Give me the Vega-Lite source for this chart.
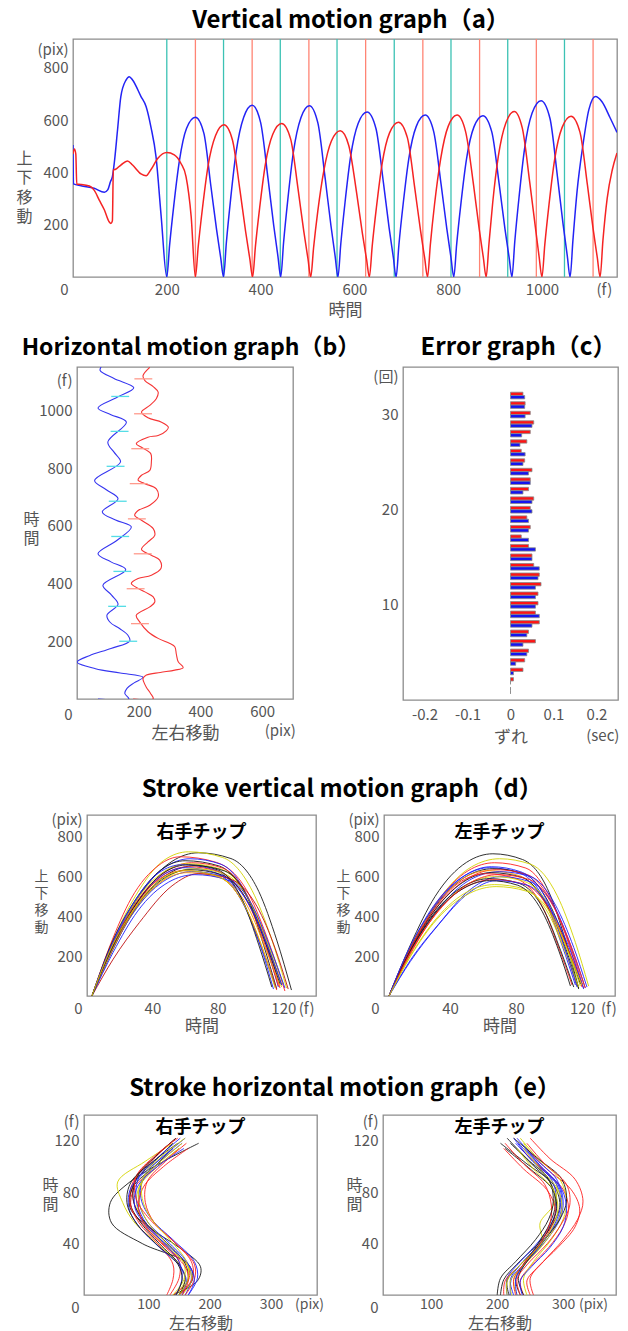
{
"$schema": "https://vega.github.io/schema/vega-lite/v6.json",
"background": "white",
"padding": {"left": 15, "top": 8, "right": 2, "bottom": 0},
"datasets": {
"vert": [
{"s":"b","t":0,"v":505},{"s":"b","t":1,"v":356},{"s":"b","t":17,"v":349},{"s":"b","t":45,"v":339},{"s":"b","t":67,"v":324},{"s":"b","t":74,"v":333},{"s":"b","t":80,"v":365},{"s":"b","t":84,"v":384},{"s":"b","t":88,"v":436},{"s":"b","t":95,"v":563},{"s":"b","t":102,"v":690},{"s":"b","t":113,"v":753},{"s":"b","t":120,"v":766},{"s":"b","t":127,"v":753},{"s":"b","t":145,"v":690},{"s":"b","t":156,"v":651},{"s":"b","t":166,"v":575},{"s":"b","t":177,"v":460},{"s":"b","t":188,"v":232},{"s":"b","t":200,"v":0},
{"s":"b","t":206,"v":122},{"s":"b","t":215,"v":275},{"s":"b","t":227,"v":446},{"s":"b","t":242,"v":568},{"s":"b","t":261,"v":611},{"s":"b","t":279,"v":550},{"s":"b","t":294,"v":348},{"s":"b","t":306,"v":183},{"s":"b","t":315,"v":73},{"s":"b","t":321,"v":0},
{"s":"b","t":327,"v":131},{"s":"b","t":336,"v":296},{"s":"b","t":348,"v":480},{"s":"b","t":364,"v":611},{"s":"b","t":382,"v":657},{"s":"b","t":400,"v":591},{"s":"b","t":416,"v":374},{"s":"b","t":428,"v":197},{"s":"b","t":437,"v":79},{"s":"b","t":443,"v":0},
{"s":"b","t":449,"v":131},{"s":"b","t":458,"v":295},{"s":"b","t":470,"v":478},{"s":"b","t":486,"v":609},{"s":"b","t":504,"v":655},{"s":"b","t":522,"v":590},{"s":"b","t":538,"v":373},{"s":"b","t":550,"v":197},{"s":"b","t":559,"v":79},{"s":"b","t":565,"v":0},
{"s":"b","t":571,"v":126},{"s":"b","t":580,"v":284},{"s":"b","t":592,"v":461},{"s":"b","t":608,"v":587},{"s":"b","t":627,"v":631},{"s":"b","t":646,"v":568},{"s":"b","t":662,"v":360},{"s":"b","t":674,"v":189},{"s":"b","t":683,"v":76},{"s":"b","t":689,"v":0},
{"s":"b","t":695,"v":124},{"s":"b","t":704,"v":279},{"s":"b","t":716,"v":452},{"s":"b","t":732,"v":576},{"s":"b","t":751,"v":619},{"s":"b","t":769,"v":557},{"s":"b","t":785,"v":353},{"s":"b","t":797,"v":186},{"s":"b","t":806,"v":74},{"s":"b","t":812,"v":0},
{"s":"b","t":818,"v":123},{"s":"b","t":827,"v":278},{"s":"b","t":839,"v":450},{"s":"b","t":855,"v":574},{"s":"b","t":874,"v":617},{"s":"b","t":893,"v":555},{"s":"b","t":909,"v":352},{"s":"b","t":921,"v":185},{"s":"b","t":930,"v":74},{"s":"b","t":936,"v":0},
{"s":"b","t":942,"v":135},{"s":"b","t":951,"v":303},{"s":"b","t":963,"v":492},{"s":"b","t":979,"v":627},{"s":"b","t":998,"v":674},{"s":"b","t":1017,"v":607},{"s":"b","t":1033,"v":384},{"s":"b","t":1045,"v":202},{"s":"b","t":1054,"v":81},{"s":"b","t":1060,"v":0},
{"s":"b","t":1066,"v":140},{"s":"b","t":1075,"v":330},{"s":"b","t":1087,"v":500},{"s":"b","t":1100,"v":640},{"s":"b","t":1114,"v":690},{"s":"b","t":1128,"v":670},{"s":"b","t":1145,"v":610},{"s":"b","t":1160,"v":553},
{"s":"r","t":0,"v":470},{"s":"r","t":3,"v":489},{"s":"r","t":6,"v":470},{"s":"r","t":8,"v":355},{"s":"r","t":17,"v":354},{"s":"r","t":35,"v":348},{"s":"r","t":45,"v":332},{"s":"r","t":56,"v":294},{"s":"r","t":67,"v":256},{"s":"r","t":77,"v":211},{"s":"r","t":81,"v":205},{"s":"r","t":84,"v":215},{"s":"r","t":86,"v":409},{"s":"r","t":91,"v":412},{"s":"r","t":102,"v":428},{"s":"r","t":116,"v":444},{"s":"r","t":127,"v":428},{"s":"r","t":145,"v":394},{"s":"r","t":156,"v":387},{"s":"r","t":166,"v":410},{"s":"r","t":181,"v":454},{"s":"r","t":200,"v":476},{"s":"r","t":216,"v":467},{"s":"r","t":230,"v":435},{"s":"r","t":241,"v":384},{"s":"r","t":252,"v":231},{"s":"r","t":261,"v":0},
{"s":"r","t":267,"v":116},{"s":"r","t":276,"v":262},{"s":"r","t":288,"v":425},{"s":"r","t":304,"v":541},{"s":"r","t":322,"v":582},{"s":"r","t":340,"v":524},{"s":"r","t":356,"v":332},{"s":"r","t":368,"v":175},{"s":"r","t":377,"v":70},{"s":"r","t":383,"v":0},
{"s":"r","t":389,"v":117},{"s":"r","t":398,"v":264},{"s":"r","t":410,"v":429},{"s":"r","t":426,"v":546},{"s":"r","t":445,"v":587},{"s":"r","t":464,"v":528},{"s":"r","t":480,"v":335},{"s":"r","t":492,"v":176},{"s":"r","t":501,"v":70},{"s":"r","t":507,"v":0},
{"s":"r","t":513,"v":112},{"s":"r","t":522,"v":252},{"s":"r","t":535,"v":408},{"s":"r","t":551,"v":520},{"s":"r","t":570,"v":559},{"s":"r","t":588,"v":503},{"s":"r","t":605,"v":319},{"s":"r","t":617,"v":168},{"s":"r","t":626,"v":67},{"s":"r","t":632,"v":0},
{"s":"r","t":638,"v":118},{"s":"r","t":647,"v":266},{"s":"r","t":659,"v":432},{"s":"r","t":675,"v":551},{"s":"r","t":694,"v":592},{"s":"r","t":713,"v":533},{"s":"r","t":729,"v":337},{"s":"r","t":741,"v":178},{"s":"r","t":750,"v":71},{"s":"r","t":756,"v":0},
{"s":"r","t":762,"v":124},{"s":"r","t":771,"v":279},{"s":"r","t":784,"v":452},{"s":"r","t":800,"v":576},{"s":"r","t":819,"v":619},{"s":"r","t":837,"v":557},{"s":"r","t":854,"v":353},{"s":"r","t":866,"v":186},{"s":"r","t":875,"v":74},{"s":"r","t":881,"v":0},
{"s":"r","t":887,"v":127},{"s":"r","t":895,"v":285},{"s":"r","t":907,"v":462},{"s":"r","t":923,"v":589},{"s":"r","t":941,"v":633},{"s":"r","t":958,"v":570},{"s":"r","t":974,"v":361},{"s":"r","t":986,"v":190},{"s":"r","t":994,"v":76},{"s":"r","t":1000,"v":0},
{"s":"r","t":1006,"v":123},{"s":"r","t":1015,"v":277},{"s":"r","t":1027,"v":449},{"s":"r","t":1043,"v":572},{"s":"r","t":1062,"v":615},{"s":"r","t":1081,"v":554},{"s":"r","t":1097,"v":351},{"s":"r","t":1109,"v":185},{"s":"r","t":1118,"v":74},{"s":"r","t":1124,"v":0},
{"s":"r","t":1130,"v":140},{"s":"r","t":1139,"v":300},{"s":"r","t":1150,"v":410},{"s":"r","t":1160,"v":474}
],
"vrules": [
{"s":"b","t":200},{"s":"b","t":321},{"s":"b","t":442},{"s":"b","t":563},{"s":"b","t":685},{"s":"b","t":806},{"s":"b","t":927},{"s":"b","t":1048},
{"s":"r","t":261},{"s":"r","t":382},{"s":"r","t":503},{"s":"r","t":624},{"s":"r","t":746},{"s":"r","t":867},{"s":"r","t":988},{"s":"r","t":1109}
],
"horiz": [
{"s":"b","t":0,"x":68},{"s":"b","t":1,"x":168},{"s":"b","t":19,"x":155},{"s":"b","t":37,"x":162},{"s":"b","t":56,"x":185},{"s":"b","t":75,"x":214},{"s":"b","t":90,"x":140},{"s":"b","t":105,"x":60},{"s":"b","t":128,"x":0},{"s":"b","t":150,"x":40},{"s":"b","t":175,"x":110},{"s":"b","t":201,"x":171},{"s":"b","t":221,"x":165},{"s":"b","t":244,"x":138},{"s":"b","t":265,"x":108},{"s":"b","t":290,"x":97},{"s":"b","t":328,"x":133},{"s":"b","t":360,"x":112},{"s":"b","t":394,"x":84},{"s":"b","t":448,"x":158},{"s":"b","t":475,"x":110},{"s":"b","t":503,"x":68},{"s":"b","t":550,"x":130},{"s":"b","t":596,"x":176},{"s":"b","t":620,"x":125},{"s":"b","t":648,"x":82},{"s":"b","t":694,"x":133},{"s":"b","t":725,"x":95},{"s":"b","t":757,"x":57},{"s":"b","t":821,"x":141},{"s":"b","t":855,"x":120},{"s":"b","t":890,"x":100},{"s":"b","t":959,"x":160},{"s":"b","t":985,"x":110},{"s":"b","t":1008,"x":68},{"s":"b","t":1045,"x":130},{"s":"b","t":1078,"x":184},{"s":"b","t":1110,"x":120},{"s":"b","t":1138,"x":75},{"s":"b","t":1150,"x":78},
{"s":"r","t":0,"x":182},{"s":"r","t":1,"x":247},{"s":"r","t":20,"x":238},{"s":"r","t":40,"x":225},{"s":"r","t":60,"x":216},{"s":"r","t":71,"x":214},{"s":"r","t":83,"x":225},{"s":"r","t":92,"x":270},{"s":"r","t":100,"x":317},{"s":"r","t":109,"x":344},{"s":"r","t":129,"x":328},{"s":"r","t":155,"x":322},{"s":"r","t":181,"x":317},{"s":"r","t":192,"x":301},{"s":"r","t":210,"x":263},{"s":"r","t":233,"x":230},{"s":"r","t":267,"x":203},{"s":"r","t":290,"x":192},{"s":"r","t":319,"x":236},{"s":"r","t":336,"x":252},{"s":"r","t":354,"x":247},{"s":"r","t":371,"x":220},{"s":"r","t":400,"x":176},{"s":"r","t":417,"x":198},{"s":"r","t":429,"x":241},{"s":"r","t":452,"x":272},{"s":"r","t":481,"x":268},{"s":"r","t":498,"x":241},{"s":"r","t":518,"x":209},{"s":"r","t":544,"x":230},{"s":"r","t":567,"x":252},{"s":"r","t":590,"x":247},{"s":"r","t":619,"x":209},{"s":"r","t":636,"x":187},{"s":"r","t":653,"x":198},{"s":"r","t":671,"x":236},{"s":"r","t":700,"x":263},{"s":"r","t":728,"x":257},{"s":"r","t":746,"x":220},{"s":"r","t":758,"x":198},{"s":"r","t":775,"x":209},{"s":"r","t":792,"x":236},{"s":"r","t":821,"x":241},{"s":"r","t":850,"x":239},{"s":"r","t":872,"x":209},{"s":"r","t":884,"x":192},{"s":"r","t":907,"x":230},{"s":"r","t":913,"x":263},{"s":"r","t":930,"x":290},{"s":"r","t":942,"x":296},{"s":"r","t":959,"x":274},{"s":"r","t":974,"x":230},{"s":"r","t":994,"x":209},{"s":"r","t":1017,"x":236},{"s":"r","t":1040,"x":257},{"s":"r","t":1063,"x":263},{"s":"r","t":1082,"x":247},{"s":"r","t":1103,"x":220},{"s":"r","t":1120,"x":214},{"s":"r","t":1149,"x":236}
],
"hdash": [
{"s":"b","t":200,"x1":137,"x2":195},{"s":"b","t":321,"x1":101,"x2":159},{"s":"b","t":442,"x1":118,"x2":176},{"s":"b","t":563,"x1":111,"x2":169},{"s":"b","t":685,"x1":103,"x2":161},{"s":"b","t":806,"x1":96,"x2":154},{"s":"b","t":927,"x1":109,"x2":167},{"s":"b","t":1048,"x1":111,"x2":169},
{"s":"r","t":261,"x1":175,"x2":233},{"s":"r","t":382,"x1":161,"x2":219},{"s":"r","t":503,"x1":184,"x2":242},{"s":"r","t":624,"x1":165,"x2":223},{"s":"r","t":746,"x1":171,"x2":229},{"s":"r","t":867,"x1":176,"x2":234},{"s":"r","t":988,"x1":185,"x2":243},{"s":"r","t":1109,"x1":186,"x2":244}
],
"err": [
{"n":1,"s":"r","e":0},{"n":1,"s":"b","e":0},{"n":2,"s":"r","e":0.007},{"n":2,"s":"b","e":0},{"n":3,"s":"r","e":0.029},{"n":3,"s":"b","e":0.007},{"n":4,"s":"r","e":0.033},{"n":4,"s":"b","e":0.012},{"n":5,"s":"r","e":0.042},{"n":5,"s":"b","e":0.038},{"n":6,"s":"r","e":0.058},{"n":6,"s":"b","e":0.029},{"n":7,"s":"r","e":0.042},{"n":7,"s":"b","e":0.038},{"n":8,"s":"r","e":0.067},{"n":8,"s":"b","e":0.05},{"n":9,"s":"r","e":0.058},{"n":9,"s":"b","e":0.067},{"n":10,"s":"r","e":0.064},{"n":10,"s":"b","e":0.058},{"n":11,"s":"r","e":0.064},{"n":11,"s":"b","e":0.058},{"n":12,"s":"r","e":0.071},{"n":12,"s":"b","e":0.058},{"n":13,"s":"r","e":0.067},{"n":13,"s":"b","e":0.064},{"n":14,"s":"r","e":0.054},{"n":14,"s":"b","e":0.067},{"n":15,"s":"r","e":0.05},{"n":15,"s":"b","e":0.05},{"n":16,"s":"r","e":0.042},{"n":16,"s":"b","e":0.058},{"n":17,"s":"r","e":0.025},{"n":17,"s":"b","e":0.042},{"n":18,"s":"r","e":0.046},{"n":18,"s":"b","e":0.042},{"n":19,"s":"r","e":0.038},{"n":19,"s":"b","e":0.042},{"n":20,"s":"r","e":0.046},{"n":20,"s":"b","e":0.05},{"n":21,"s":"r","e":0.054},{"n":21,"s":"b","e":0.05},{"n":22,"s":"r","e":0.042},{"n":22,"s":"b","e":0.029},{"n":23,"s":"r","e":0.046},{"n":23,"s":"b","e":0.046},{"n":24,"s":"r","e":0.05},{"n":24,"s":"b","e":0.042},{"n":25,"s":"r","e":0.033},{"n":25,"s":"b","e":0.029},{"n":26,"s":"r","e":0.025},{"n":26,"s":"b","e":0.034},{"n":27,"s":"r","e":0.038},{"n":27,"s":"b","e":0.022},{"n":28,"s":"r","e":0.046},{"n":28,"s":"b","e":0.026},{"n":29,"s":"r","e":0.054},{"n":29,"s":"b","e":0.05},{"n":30,"s":"r","e":0.046},{"n":30,"s":"b","e":0.034},{"n":31,"s":"r","e":0.034},{"n":31,"s":"b","e":0.033},{"n":32,"s":"r","e":0.029},{"n":32,"s":"b","e":0.033}
],
"svr": [
{"c":1,"t":3,"v":0},{"c":1,"t":16,"v":259},{"c":1,"t":32,"v":504},{"c":1,"t":52,"v":677},{"c":1,"t":68,"v":720},{"c":1,"t":88,"v":691},{"c":1,"t":105,"v":526},{"c":1,"t":116,"v":281},{"c":1,"t":125,"v":30},
{"c":2,"t":3,"v":0},{"c":2,"t":15,"v":261},{"c":2,"t":30,"v":508},{"c":2,"t":47,"v":682},{"c":2,"t":62,"v":725},{"c":2,"t":83,"v":696},{"c":2,"t":101,"v":529},{"c":2,"t":113,"v":283},{"c":2,"t":122,"v":40},
{"c":3,"t":3,"v":0},{"c":3,"t":14,"v":252},{"c":3,"t":27,"v":490},{"c":3,"t":44,"v":658},{"c":3,"t":57,"v":700},{"c":3,"t":79,"v":672},{"c":3,"t":99,"v":511},{"c":3,"t":111,"v":273},{"c":3,"t":121,"v":25},
{"c":4,"t":3,"v":0},{"c":4,"t":15,"v":248},{"c":4,"t":30,"v":483},{"c":4,"t":48,"v":649},{"c":4,"t":63,"v":690},{"c":4,"t":82,"v":662},{"c":4,"t":98,"v":504},{"c":4,"t":109,"v":269},{"c":4,"t":117,"v":45},
{"c":5,"t":3,"v":0},{"c":5,"t":14,"v":245},{"c":5,"t":29,"v":476},{"c":5,"t":46,"v":639},{"c":5,"t":60,"v":680},{"c":5,"t":81,"v":653},{"c":5,"t":98,"v":496},{"c":5,"t":110,"v":265},{"c":5,"t":119,"v":55},
{"c":6,"t":3,"v":0},{"c":6,"t":15,"v":241},{"c":6,"t":30,"v":469},{"c":6,"t":49,"v":630},{"c":6,"t":64,"v":670},{"c":6,"t":83,"v":643},{"c":6,"t":99,"v":489},{"c":6,"t":110,"v":261},{"c":6,"t":118,"v":40},
{"c":7,"t":3,"v":0},{"c":7,"t":15,"v":239},{"c":7,"t":29,"v":466},{"c":7,"t":47,"v":625},{"c":7,"t":61,"v":665},{"c":7,"t":82,"v":638},{"c":7,"t":99,"v":485},{"c":7,"t":111,"v":259},{"c":7,"t":120,"v":60},
{"c":8,"t":3,"v":0},{"c":8,"t":14,"v":238},{"c":8,"t":28,"v":462},{"c":8,"t":44,"v":620},{"c":8,"t":58,"v":660},{"c":8,"t":78,"v":634},{"c":8,"t":95,"v":482},{"c":8,"t":106,"v":257},{"c":8,"t":115,"v":50},
{"c":9,"t":3,"v":0},{"c":9,"t":16,"v":236},{"c":9,"t":31,"v":459},{"c":9,"t":50,"v":616},{"c":9,"t":66,"v":655},{"c":9,"t":84,"v":629},{"c":9,"t":99,"v":478},{"c":9,"t":108,"v":255},{"c":9,"t":116,"v":35},
{"c":10,"t":3,"v":0},{"c":10,"t":15,"v":234},{"c":10,"t":30,"v":455},{"c":10,"t":47,"v":611},{"c":10,"t":62,"v":650},{"c":10,"t":81,"v":624},{"c":10,"t":98,"v":475},{"c":10,"t":109,"v":254},{"c":10,"t":117,"v":50},
{"c":11,"t":3,"v":0},{"c":11,"t":14,"v":232},{"c":11,"t":29,"v":452},{"c":11,"t":46,"v":606},{"c":11,"t":60,"v":645},{"c":11,"t":79,"v":619},{"c":11,"t":95,"v":471},{"c":11,"t":106,"v":252},{"c":11,"t":114,"v":35},
{"c":12,"t":3,"v":0},{"c":12,"t":15,"v":230},{"c":12,"t":31,"v":448},{"c":12,"t":50,"v":602},{"c":12,"t":65,"v":640},{"c":12,"t":84,"v":614},{"c":12,"t":100,"v":467},{"c":12,"t":111,"v":250},{"c":12,"t":119,"v":45},
{"c":13,"t":3,"v":0},{"c":13,"t":15,"v":229},{"c":13,"t":30,"v":445},{"c":13,"t":48,"v":597},{"c":13,"t":63,"v":635},{"c":13,"t":82,"v":610},{"c":13,"t":99,"v":464},{"c":13,"t":110,"v":248},{"c":13,"t":118,"v":60},
{"c":14,"t":3,"v":0},{"c":14,"t":14,"v":227},{"c":14,"t":28,"v":441},{"c":14,"t":45,"v":592},{"c":14,"t":59,"v":630},{"c":14,"t":79,"v":605},{"c":14,"t":96,"v":460},{"c":14,"t":107,"v":246},{"c":14,"t":116,"v":30},
{"c":15,"t":3,"v":0},{"c":15,"t":15,"v":225},{"c":15,"t":30,"v":438},{"c":15,"t":49,"v":588},{"c":15,"t":64,"v":625},{"c":15,"t":84,"v":600},{"c":15,"t":101,"v":456},{"c":15,"t":112,"v":244},{"c":15,"t":121,"v":40},
{"c":16,"t":3,"v":0},{"c":16,"t":15,"v":223},{"c":16,"t":29,"v":434},{"c":16,"t":47,"v":583},{"c":16,"t":61,"v":620},{"c":16,"t":81,"v":595},{"c":16,"t":98,"v":453},{"c":16,"t":109,"v":242},{"c":16,"t":118,"v":50},
{"c":17,"t":3,"v":0},{"c":17,"t":16,"v":185},{"c":17,"t":32,"v":369},{"c":17,"t":52,"v":554},{"c":17,"t":68,"v":615},{"c":17,"t":87,"v":590},{"c":17,"t":104,"v":449},{"c":17,"t":115,"v":240},{"c":17,"t":123,"v":35},
{"c":18,"t":3,"v":0},{"c":18,"t":16,"v":220},{"c":18,"t":31,"v":427},{"c":18,"t":50,"v":573},{"c":18,"t":66,"v":610},{"c":18,"t":85,"v":586},{"c":18,"t":100,"v":445},{"c":18,"t":111,"v":238},{"c":18,"t":119,"v":55},
{"c":19,"t":3,"v":0},{"c":19,"t":15,"v":238},{"c":19,"t":30,"v":462},{"c":19,"t":47,"v":620},{"c":19,"t":62,"v":660},{"c":19,"t":80,"v":634},{"c":19,"t":95,"v":482},{"c":19,"t":105,"v":257},{"c":19,"t":113,"v":45},
{"c":20,"t":3,"v":0},{"c":20,"t":14,"v":227},{"c":20,"t":29,"v":441},{"c":20,"t":46,"v":592},{"c":20,"t":60,"v":630},{"c":20,"t":79,"v":605},{"c":20,"t":96,"v":460},{"c":20,"t":107,"v":246},{"c":20,"t":115,"v":40}
],
"svl": [
{"c":1,"t":3,"v":0},{"c":1,"t":16,"v":257},{"c":1,"t":31,"v":501},{"c":1,"t":50,"v":672},{"c":1,"t":66,"v":715},{"c":1,"t":84,"v":686},{"c":1,"t":100,"v":522},{"c":1,"t":110,"v":279},{"c":1,"t":118,"v":40},
{"c":2,"t":3,"v":0},{"c":2,"t":16,"v":248},{"c":2,"t":33,"v":483},{"c":2,"t":53,"v":649},{"c":2,"t":70,"v":690},{"c":2,"t":89,"v":662},{"c":2,"t":105,"v":504},{"c":2,"t":116,"v":269},{"c":2,"t":124,"v":50},
{"c":3,"t":3,"v":0},{"c":3,"t":16,"v":241},{"c":3,"t":32,"v":469},{"c":3,"t":51,"v":630},{"c":3,"t":67,"v":670},{"c":3,"t":86,"v":643},{"c":3,"t":101,"v":489},{"c":3,"t":112,"v":261},{"c":3,"t":120,"v":45},
{"c":4,"t":3,"v":0},{"c":4,"t":15,"v":232},{"c":4,"t":30,"v":452},{"c":4,"t":49,"v":606},{"c":4,"t":64,"v":645},{"c":4,"t":82,"v":619},{"c":4,"t":98,"v":471},{"c":4,"t":108,"v":252},{"c":4,"t":116,"v":55},
{"c":5,"t":3,"v":0},{"c":5,"t":16,"v":230},{"c":5,"t":31,"v":448},{"c":5,"t":50,"v":602},{"c":5,"t":66,"v":640},{"c":5,"t":85,"v":614},{"c":5,"t":100,"v":467},{"c":5,"t":111,"v":250},{"c":5,"t":119,"v":60},
{"c":6,"t":3,"v":0},{"c":6,"t":16,"v":229},{"c":6,"t":32,"v":445},{"c":6,"t":52,"v":597},{"c":6,"t":68,"v":635},{"c":6,"t":87,"v":610},{"c":6,"t":102,"v":464},{"c":6,"t":113,"v":248},{"c":6,"t":121,"v":40},
{"c":7,"t":3,"v":0},{"c":7,"t":15,"v":227},{"c":7,"t":30,"v":441},{"c":7,"t":48,"v":592},{"c":7,"t":63,"v":630},{"c":7,"t":82,"v":605},{"c":7,"t":98,"v":460},{"c":7,"t":109,"v":246},{"c":7,"t":117,"v":50},
{"c":8,"t":3,"v":0},{"c":8,"t":16,"v":225},{"c":8,"t":33,"v":438},{"c":8,"t":53,"v":588},{"c":8,"t":70,"v":625},{"c":8,"t":89,"v":600},{"c":8,"t":104,"v":456},{"c":8,"t":115,"v":244},{"c":8,"t":123,"v":45},
{"c":9,"t":3,"v":0},{"c":9,"t":15,"v":223},{"c":9,"t":31,"v":434},{"c":9,"t":50,"v":583},{"c":9,"t":65,"v":620},{"c":9,"t":84,"v":595},{"c":9,"t":99,"v":453},{"c":9,"t":110,"v":242},{"c":9,"t":118,"v":35},
{"c":10,"t":3,"v":0},{"c":10,"t":15,"v":221},{"c":10,"t":30,"v":431},{"c":10,"t":47,"v":578},{"c":10,"t":62,"v":615},{"c":10,"t":80,"v":590},{"c":10,"t":96,"v":449},{"c":10,"t":106,"v":240},{"c":10,"t":114,"v":55},
{"c":11,"t":3,"v":0},{"c":11,"t":16,"v":180},{"c":11,"t":33,"v":360},{"c":11,"t":53,"v":540},{"c":11,"t":70,"v":600},{"c":11,"t":88,"v":576},{"c":11,"t":104,"v":438},{"c":11,"t":114,"v":234},{"c":11,"t":122,"v":40},
{"c":12,"t":3,"v":0},{"c":12,"t":16,"v":216},{"c":12,"t":32,"v":420},{"c":12,"t":51,"v":564},{"c":12,"t":67,"v":600},{"c":12,"t":85,"v":576},{"c":12,"t":101,"v":438},{"c":12,"t":111,"v":234},{"c":12,"t":119,"v":50},
{"c":13,"t":3,"v":0},{"c":13,"t":15,"v":212},{"c":13,"t":30,"v":413},{"c":13,"t":49,"v":555},{"c":13,"t":64,"v":590},{"c":13,"t":82,"v":566},{"c":13,"t":97,"v":431},{"c":13,"t":107,"v":230},{"c":13,"t":115,"v":45},
{"c":14,"t":3,"v":0},{"c":14,"t":16,"v":211},{"c":14,"t":31,"v":410},{"c":14,"t":50,"v":550},{"c":14,"t":66,"v":585},{"c":14,"t":85,"v":562},{"c":14,"t":101,"v":427},{"c":14,"t":112,"v":228},{"c":14,"t":120,"v":60},
{"c":15,"t":3,"v":0},{"c":15,"t":16,"v":174},{"c":15,"t":32,"v":348},{"c":15,"t":52,"v":522},{"c":15,"t":68,"v":580},{"c":15,"t":87,"v":557},{"c":15,"t":102,"v":423},{"c":15,"t":113,"v":226},{"c":15,"t":121,"v":35},
{"c":16,"t":3,"v":0},{"c":16,"t":16,"v":202},{"c":16,"t":32,"v":392},{"c":16,"t":51,"v":526},{"c":16,"t":67,"v":560},{"c":16,"t":85,"v":538},{"c":16,"t":100,"v":409},{"c":16,"t":110,"v":218},{"c":16,"t":118,"v":45},
{"c":17,"t":3,"v":0},{"c":17,"t":15,"v":209},{"c":17,"t":30,"v":406},{"c":17,"t":49,"v":545},{"c":17,"t":64,"v":580},{"c":17,"t":81,"v":557},{"c":17,"t":96,"v":423},{"c":17,"t":106,"v":226},{"c":17,"t":113,"v":50},
{"c":18,"t":3,"v":0},{"c":18,"t":16,"v":220},{"c":18,"t":33,"v":427},{"c":18,"t":53,"v":573},{"c":18,"t":69,"v":610},{"c":18,"t":88,"v":586},{"c":18,"t":103,"v":445},{"c":18,"t":114,"v":238},{"c":18,"t":122,"v":40},
{"c":19,"t":3,"v":0},{"c":19,"t":15,"v":234},{"c":19,"t":31,"v":455},{"c":19,"t":50,"v":611},{"c":19,"t":65,"v":650},{"c":19,"t":83,"v":624},{"c":19,"t":99,"v":475},{"c":19,"t":109,"v":254},{"c":19,"t":117,"v":45},
{"c":20,"t":3,"v":0},{"c":20,"t":16,"v":198},{"c":20,"t":32,"v":385},{"c":20,"t":52,"v":517},{"c":20,"t":68,"v":550},{"c":20,"t":86,"v":528},{"c":20,"t":102,"v":402},{"c":20,"t":112,"v":215},{"c":20,"t":120,"v":55}
],
"shr": [
{"c":1,"t":0,"x":150},{"c":1,"t":12,"x":172},{"c":1,"t":24,"x":165},{"c":1,"t":40,"x":90},{"c":1,"t":56,"x":40},{"c":1,"t":72,"x":38},{"c":1,"t":88,"x":70},{"c":1,"t":104,"x":125},{"c":1,"t":118,"x":182},
{"c":2,"t":0,"x":140},{"c":2,"t":11,"x":180},{"c":2,"t":22,"x":185},{"c":2,"t":37,"x":150},{"c":2,"t":53,"x":100},{"c":2,"t":68,"x":70},{"c":2,"t":84,"x":75},{"c":2,"t":100,"x":110},{"c":2,"t":114,"x":140},
{"c":3,"t":0,"x":145},{"c":3,"t":12,"x":160},{"c":3,"t":24,"x":150},{"c":3,"t":40,"x":115},{"c":3,"t":56,"x":78},{"c":3,"t":72,"x":58},{"c":3,"t":88,"x":50},{"c":3,"t":104,"x":95},{"c":3,"t":118,"x":140},
{"c":4,"t":0,"x":135},{"c":4,"t":13,"x":150},{"c":4,"t":26,"x":150},{"c":4,"t":43,"x":120},{"c":4,"t":59,"x":90},{"c":4,"t":75,"x":75},{"c":4,"t":92,"x":80},{"c":4,"t":108,"x":112},{"c":4,"t":122,"x":145},
{"c":5,"t":0,"x":160},{"c":5,"t":12,"x":170},{"c":5,"t":24,"x":165},{"c":5,"t":40,"x":135},{"c":5,"t":56,"x":100},{"c":5,"t":72,"x":85},{"c":5,"t":88,"x":90},{"c":5,"t":104,"x":120},{"c":5,"t":118,"x":155},
{"c":6,"t":0,"x":140},{"c":6,"t":11,"x":165},{"c":6,"t":22,"x":165},{"c":6,"t":37,"x":130},{"c":6,"t":53,"x":95},{"c":6,"t":68,"x":72},{"c":6,"t":84,"x":78},{"c":6,"t":100,"x":115},{"c":6,"t":114,"x":150},
{"c":7,"t":0,"x":165},{"c":7,"t":13,"x":180},{"c":7,"t":26,"x":175},{"c":7,"t":43,"x":140},{"c":7,"t":59,"x":105},{"c":7,"t":75,"x":88},{"c":7,"t":92,"x":92},{"c":7,"t":108,"x":125},{"c":7,"t":122,"x":160},
{"c":8,"t":0,"x":150},{"c":8,"t":12,"x":160},{"c":8,"t":24,"x":150},{"c":8,"t":40,"x":118},{"c":8,"t":56,"x":88},{"c":8,"t":72,"x":70},{"c":8,"t":88,"x":78},{"c":8,"t":104,"x":110},{"c":8,"t":118,"x":140},
{"c":9,"t":0,"x":155},{"c":9,"t":11,"x":170},{"c":9,"t":22,"x":165},{"c":9,"t":37,"x":132},{"c":9,"t":53,"x":98},{"c":9,"t":68,"x":82},{"c":9,"t":84,"x":85},{"c":9,"t":100,"x":115},{"c":9,"t":114,"x":150},
{"c":10,"t":0,"x":130},{"c":10,"t":12,"x":140},{"c":10,"t":24,"x":140},{"c":10,"t":40,"x":115},{"c":10,"t":56,"x":85},{"c":10,"t":72,"x":70},{"c":10,"t":88,"x":75},{"c":10,"t":104,"x":105},{"c":10,"t":118,"x":135},
{"c":11,"t":0,"x":145},{"c":11,"t":13,"x":155},{"c":11,"t":26,"x":150},{"c":11,"t":43,"x":120},{"c":11,"t":59,"x":92},{"c":11,"t":75,"x":80},{"c":11,"t":92,"x":85},{"c":11,"t":108,"x":118},{"c":11,"t":122,"x":152},
{"c":12,"t":0,"x":160},{"c":12,"t":12,"x":175},{"c":12,"t":24,"x":175},{"c":12,"t":40,"x":145},{"c":12,"t":56,"x":110},{"c":12,"t":72,"x":95},{"c":12,"t":88,"x":98},{"c":12,"t":104,"x":128},{"c":12,"t":118,"x":162},
{"c":13,"t":0,"x":150},{"c":13,"t":13,"x":165},{"c":13,"t":26,"x":158},{"c":13,"t":43,"x":125},{"c":13,"t":59,"x":90},{"c":13,"t":75,"x":75},{"c":13,"t":92,"x":82},{"c":13,"t":108,"x":112},{"c":13,"t":122,"x":145},
{"c":14,"t":0,"x":155},{"c":14,"t":11,"x":162},{"c":14,"t":22,"x":152},{"c":14,"t":37,"x":118},{"c":14,"t":53,"x":85},{"c":14,"t":68,"x":68},{"c":14,"t":84,"x":72},{"c":14,"t":100,"x":105},{"c":14,"t":114,"x":140},
{"c":15,"t":0,"x":140},{"c":15,"t":12,"x":158},{"c":15,"t":24,"x":158},{"c":15,"t":40,"x":130},{"c":15,"t":56,"x":100},{"c":15,"t":72,"x":85},{"c":15,"t":88,"x":88},{"c":15,"t":104,"x":120},{"c":15,"t":118,"x":155},
{"c":16,"t":0,"x":150},{"c":16,"t":13,"x":172},{"c":16,"t":26,"x":170},{"c":16,"t":43,"x":138},{"c":16,"t":59,"x":102},{"c":16,"t":75,"x":80},{"c":16,"t":92,"x":80},{"c":16,"t":108,"x":110},{"c":16,"t":122,"x":148},
{"c":17,"t":0,"x":165},{"c":17,"t":11,"x":175},{"c":17,"t":22,"x":168},{"c":17,"t":37,"x":135},{"c":17,"t":53,"x":98},{"c":17,"t":68,"x":78},{"c":17,"t":84,"x":82},{"c":17,"t":100,"x":115},{"c":17,"t":114,"x":158},
{"c":18,"t":0,"x":145},{"c":18,"t":12,"x":155},{"c":18,"t":24,"x":148},{"c":18,"t":40,"x":112},{"c":18,"t":56,"x":80},{"c":18,"t":72,"x":65},{"c":18,"t":88,"x":72},{"c":18,"t":104,"x":108},{"c":18,"t":118,"x":148},
{"c":19,"t":0,"x":155},{"c":19,"t":11,"x":165},{"c":19,"t":22,"x":160},{"c":19,"t":37,"x":128},{"c":19,"t":53,"x":96},{"c":19,"t":68,"x":84},{"c":19,"t":84,"x":92},{"c":19,"t":100,"x":125},{"c":19,"t":114,"x":165},
{"c":20,"t":0,"x":150},{"c":20,"t":13,"x":165},{"c":20,"t":26,"x":162},{"c":20,"t":43,"x":135},{"c":20,"t":59,"x":105},{"c":20,"t":75,"x":90},{"c":20,"t":92,"x":92},{"c":20,"t":108,"x":122},{"c":20,"t":122,"x":160}
],
"shl": [
{"c":1,"t":0,"x":205},{"c":1,"t":12,"x":210},{"c":1,"t":24,"x":230},{"c":1,"t":40,"x":262},{"c":1,"t":56,"x":285},{"c":1,"t":70,"x":295},{"c":1,"t":86,"x":285},{"c":1,"t":102,"x":245},{"c":1,"t":118,"x":205},
{"c":2,"t":0,"x":250},{"c":2,"t":11,"x":245},{"c":2,"t":22,"x":262},{"c":2,"t":37,"x":292},{"c":2,"t":53,"x":318},{"c":2,"t":67,"x":325},{"c":2,"t":82,"x":312},{"c":2,"t":98,"x":275},{"c":2,"t":114,"x":245},
{"c":3,"t":0,"x":215},{"c":3,"t":13,"x":215},{"c":3,"t":26,"x":235},{"c":3,"t":43,"x":265},{"c":3,"t":59,"x":285},{"c":3,"t":73,"x":290},{"c":3,"t":90,"x":282},{"c":3,"t":106,"x":250},{"c":3,"t":122,"x":225},
{"c":4,"t":0,"x":230},{"c":4,"t":12,"x":225},{"c":4,"t":24,"x":240},{"c":4,"t":40,"x":268},{"c":4,"t":56,"x":265},{"c":4,"t":70,"x":285},{"c":4,"t":86,"x":290},{"c":4,"t":102,"x":262},{"c":4,"t":118,"x":240},
{"c":5,"t":0,"x":240},{"c":5,"t":11,"x":235},{"c":5,"t":22,"x":250},{"c":5,"t":37,"x":278},{"c":5,"t":53,"x":300},{"c":5,"t":67,"x":308},{"c":5,"t":82,"x":300},{"c":5,"t":98,"x":268},{"c":5,"t":114,"x":235},
{"c":6,"t":0,"x":220},{"c":6,"t":13,"x":222},{"c":6,"t":26,"x":245},{"c":6,"t":43,"x":275},{"c":6,"t":59,"x":295},{"c":6,"t":73,"x":300},{"c":6,"t":90,"x":290},{"c":6,"t":106,"x":258},{"c":6,"t":122,"x":230},
{"c":7,"t":0,"x":235},{"c":7,"t":12,"x":228},{"c":7,"t":24,"x":240},{"c":7,"t":40,"x":262},{"c":7,"t":56,"x":280},{"c":7,"t":70,"x":288},{"c":7,"t":86,"x":282},{"c":7,"t":102,"x":252},{"c":7,"t":118,"x":220},
{"c":8,"t":0,"x":210},{"c":8,"t":11,"x":212},{"c":8,"t":22,"x":232},{"c":8,"t":37,"x":262},{"c":8,"t":53,"x":282},{"c":8,"t":67,"x":288},{"c":8,"t":82,"x":275},{"c":8,"t":98,"x":240},{"c":8,"t":114,"x":210},
{"c":9,"t":0,"x":245},{"c":9,"t":13,"x":240},{"c":9,"t":26,"x":255},{"c":9,"t":43,"x":282},{"c":9,"t":59,"x":300},{"c":9,"t":73,"x":305},{"c":9,"t":90,"x":295},{"c":9,"t":106,"x":262},{"c":9,"t":122,"x":235},
{"c":10,"t":0,"x":225},{"c":10,"t":12,"x":220},{"c":10,"t":24,"x":236},{"c":10,"t":40,"x":265},{"c":10,"t":56,"x":290},{"c":10,"t":70,"x":298},{"c":10,"t":86,"x":292},{"c":10,"t":102,"x":262},{"c":10,"t":118,"x":232},
{"c":11,"t":0,"x":218},{"c":11,"t":11,"x":215},{"c":11,"t":22,"x":232},{"c":11,"t":37,"x":260},{"c":11,"t":53,"x":280},{"c":11,"t":67,"x":290},{"c":11,"t":82,"x":284},{"c":11,"t":98,"x":250},{"c":11,"t":114,"x":212},
{"c":12,"t":0,"x":255},{"c":12,"t":13,"x":250},{"c":12,"t":26,"x":270},{"c":12,"t":43,"x":300},{"c":12,"t":59,"x":322},{"c":12,"t":73,"x":330},{"c":12,"t":90,"x":318},{"c":12,"t":106,"x":280},{"c":12,"t":122,"x":250},
{"c":13,"t":0,"x":230},{"c":13,"t":12,"x":228},{"c":13,"t":24,"x":242},{"c":13,"t":40,"x":268},{"c":13,"t":56,"x":288},{"c":13,"t":70,"x":296},{"c":13,"t":86,"x":290},{"c":13,"t":102,"x":258},{"c":13,"t":118,"x":228},
{"c":14,"t":0,"x":222},{"c":14,"t":11,"x":220},{"c":14,"t":22,"x":238},{"c":14,"t":37,"x":266},{"c":14,"t":53,"x":288},{"c":14,"t":67,"x":298},{"c":14,"t":82,"x":292},{"c":14,"t":98,"x":265},{"c":14,"t":114,"x":240},
{"c":15,"t":0,"x":240},{"c":15,"t":13,"x":232},{"c":15,"t":26,"x":245},{"c":15,"t":43,"x":272},{"c":15,"t":59,"x":295},{"c":15,"t":73,"x":305},{"c":15,"t":90,"x":298},{"c":15,"t":106,"x":262},{"c":15,"t":122,"x":225},
{"c":16,"t":0,"x":228},{"c":16,"t":12,"x":225},{"c":16,"t":24,"x":240},{"c":16,"t":40,"x":265},{"c":16,"t":56,"x":280},{"c":16,"t":70,"x":282},{"c":16,"t":86,"x":272},{"c":16,"t":102,"x":240},{"c":16,"t":118,"x":212},
{"c":17,"t":0,"x":238},{"c":17,"t":11,"x":235},{"c":17,"t":22,"x":252},{"c":17,"t":37,"x":280},{"c":17,"t":53,"x":300},{"c":17,"t":67,"x":305},{"c":17,"t":82,"x":298},{"c":17,"t":98,"x":270},{"c":17,"t":114,"x":242},
{"c":18,"t":0,"x":200},{"c":18,"t":13,"x":205},{"c":18,"t":26,"x":228},{"c":18,"t":43,"x":258},{"c":18,"t":59,"x":278},{"c":18,"t":73,"x":285},{"c":18,"t":90,"x":278},{"c":18,"t":106,"x":245},{"c":18,"t":122,"x":215},
{"c":19,"t":0,"x":235},{"c":19,"t":12,"x":230},{"c":19,"t":24,"x":246},{"c":19,"t":40,"x":276},{"c":19,"t":56,"x":298},{"c":19,"t":70,"x":310},{"c":19,"t":86,"x":305},{"c":19,"t":102,"x":272},{"c":19,"t":118,"x":245},
{"c":20,"t":0,"x":215},{"c":20,"t":11,"x":215},{"c":20,"t":22,"x":232},{"c":20,"t":37,"x":262},{"c":20,"t":53,"x":284},{"c":20,"t":67,"x":292},{"c":20,"t":82,"x":285},{"c":20,"t":98,"x":255},{"c":20,"t":114,"x":230}
]
},
"bounds": "flush",
"spacing": 776,
"resolve": {"scale": {"color": "independent"}},
"vconcat": [
{
"bounds": "flush",
"spacing": 90,
"resolve": {"scale": {"color": "independent"}},
"vconcat": [
{
"title": {"text": "Vertical motion graph（a）", "offset": 5, "dx": 6},
"width": 544, "height": 238,
"resolve": {"scale": {"color": "independent"}},
"layer": [
{"data": {"name": "vrules"}, "mark": {"type": "rule", "strokeWidth": 1.3},
"encoding": {
"x": {"field": "t", "type": "quantitative", "scale": {"domain": [0, 1160], "nice": false, "zero": false}, "axis": {"title": "時間", "format": "d", "titleY": 25, "titleBaseline": "top", "values": [200, 400, 600, 800, 1000, 1132], "labelExpr": "datum.value > 1100 ? '(f)' : datum.label"}},
"color": {"field": "s", "type": "nominal", "scale": {"domain": ["b", "r"], "range": ["#3cc2b4", "#ff8474"]}, "legend": null}}},
{"data": {"name": "vert"}, "mark": {"type": "line", "interpolate": "monotone", "strokeWidth": 1.5, "clip": true},
"encoding": {
"x": {"field": "t", "type": "quantitative", "scale": {"domain": [0, 1160], "nice": false, "zero": false}, "axis": {"title": "時間", "format": "d", "titleY": 25, "titleBaseline": "top", "values": [200, 400, 600, 800, 1000, 1132], "labelExpr": "datum.value > 1100 ? '(f)' : datum.label"}},
"y": {"field": "v", "type": "quantitative", "scale": {"domain": [0, 910], "nice": false}, "axis": {"title": ["上", "下", "移", "動"], "titleFontSize": 16, "titleAngle": 0, "titleLineHeight": 19.5, "titleX": -49, "titleY": 119, "titleAlign": "center", "titleBaseline": "middle", "values": [0, 200, 400, 600, 800, 870], "labelExpr": "datum.value > 850 ? '(pix)' : datum.label", "labelOffset": {"condition": {"test": "datum.value == 0", "value": 12}, "value": 0}}},
"color": {"field": "s", "type": "nominal", "scale": {"domain": ["b", "r"], "range": ["#2323f5", "#f52323"]}, "legend": null}}}
]
},
{
"bounds": "flush",
"spacing": 0,
"resolve": {"scale": {"color": "independent"}},
"hconcat": [
{"width": 4, "height": 2, "view": {"stroke": null}, "data": {"values": []}, "mark": "point"},
{
"bounds": "flush",
"spacing": 110,
"resolve": {"scale": {"color": "independent"}},
"hconcat": [
{
"title": {"text": "Horizontal motion graph（b）", "offset": 7, "fontSize": 23, "dx": 6},
"width": 216, "height": 332,
"resolve": {"scale": {"color": "independent"}},
"layer": [
{"data": {"name": "horiz"}, "mark": {"type": "line", "interpolate": "catmull-rom", "strokeWidth": 1.1, "clip": true},
"encoding": {
"x": {"field": "x", "type": "quantitative", "scale": {"domain": [0, 700], "nice": false}, "axis": {"title": "左右移動", "titleY": 26, "titleBaseline": "top", "values": [200, 400, 600, 657], "labelExpr": "datum.value > 650 ? '(pix)' : datum.label", "labelPadding": {"condition": {"test": "datum.value > 650", "value": 24}, "value": 5}}},
"y": {"field": "t", "type": "quantitative", "scale": {"domain": [0, 1150], "nice": false}, "axis": {"title": ["時", "間"], "format": "d", "titleFontSize": 16, "titleAngle": 0, "titleLineHeight": 19.5, "titleX": -46, "titleY": 152, "titleAlign": "center", "titleBaseline": "middle", "values": [0, 200, 400, 600, 800, 1000, 1103], "labelExpr": "datum.value > 1050 ? '(f)' : datum.label", "labelOffset": {"condition": {"test": "datum.value == 0", "value": 15}, "value": 0}}},
"order": {"field": "t", "type": "quantitative"},
"color": {"field": "s", "type": "nominal", "scale": {"domain": ["b", "r"], "range": ["#3535f0", "#f53535"]}, "legend": null}}},
{"data": {"name": "hdash"}, "mark": {"type": "rule", "strokeWidth": 1.3},
"encoding": {
"x": {"field": "x1", "type": "quantitative", "scale": {"domain": [0, 700], "nice": false}, "axis": {"title": "左右移動", "titleY": 26, "titleBaseline": "top", "values": [200, 400, 600, 657], "labelExpr": "datum.value > 650 ? '(pix)' : datum.label", "labelPadding": {"condition": {"test": "datum.value > 650", "value": 24}, "value": 5}}},
"x2": {"field": "x2"},
"y": {"field": "t", "type": "quantitative", "scale": {"domain": [0, 1150], "nice": false}, "axis": {"title": ["時", "間"], "format": "d", "titleFontSize": 16, "titleAngle": 0, "titleLineHeight": 19.5, "titleX": -46, "titleY": 152, "titleAlign": "center", "titleBaseline": "middle", "values": [0, 200, 400, 600, 800, 1000, 1103], "labelExpr": "datum.value > 1050 ? '(f)' : datum.label", "labelOffset": {"condition": {"test": "datum.value == 0", "value": 15}, "value": 0}}},
"color": {"field": "s", "type": "nominal", "scale": {"domain": ["b", "r"], "range": ["#55dde6", "#ff9a8c"]}, "legend": null}}}
]
},
{
"title": {"text": "Error graph（c）", "offset": 7, "dx": 8},
"width": 215, "height": 333,
"data": {"name": "err"},
"mark": {"type": "bar", "stroke": "#8a8a8a", "strokeWidth": 0.8},
"encoding": {
"y": {"field": "n", "type": "ordinal", "scale": {"domain": [34,33,32,31,30,29,28,27,26,25,24,23,22,21,20,19,18,17,16,15,14,13,12,11,10,9,8,7,6,5,4,3,2,1], "paddingInner": 0.3, "paddingOuter": 0.65}, "axis": {"title": null, "values": [10, 20, 30, 34], "labelAngle": 0, "labelExpr": "datum.value == 34 ? '(回)' : datum.label"}},
"yOffset": {"field": "s", "type": "nominal", "scale": {"domain": ["r", "b"], "paddingInner": 0, "paddingOuter": 0}},
"x": {"field": "e", "type": "quantitative", "scale": {"domain": [-0.25, 0.25], "nice": false}, "axis": {"title": "ずれ", "titleY": 29, "titleBaseline": "top", "values": [-0.2, -0.1, 0, 0.1, 0.2, 0.2135], "labelExpr": "datum.value > 0.21 ? '(sec)' : (datum.value < 0 ? '-' + format(-datum.value, '.1f') : (datum.value == 0 ? '0' : format(datum.value, '.1f')))", "labelPadding": {"condition": {"test": "datum.value > 0.21", "value": 28}, "value": 7}}},
"color": {"field": "s", "type": "nominal", "scale": {"domain": ["r", "b"], "range": ["#ff1414", "#1414f0"]}, "legend": null}
}
}
]
}
]
}
]
},
{
"bounds": "flush",
"spacing": 300,
"resolve": {"scale": {"color": "independent"}},
"vconcat": [
{
"title": {"text": "Stroke vertical motion graph（d）", "anchor": "middle", "offset": 10, "dx": 17},
"bounds": "flush",
"spacing": 0,
"resolve": {"scale": {"color": "independent"}},
"hconcat": [
{"width": 14, "height": 2, "view": {"stroke": null}, "data": {"values": []}, "mark": "point"},
{
"bounds": "flush",
"spacing": 68,
"resolve": {"scale": {"color": "independent"}},
"hconcat": [
{
"title": {"text": "右手チップ", "fontSize": 18, "offset": -29},
"width": 229, "height": 181,
"data": {"name": "svr"},
"mark": {"type": "line", "interpolate": "monotone", "strokeWidth": 0.9},
"encoding": {
"x": {"field": "t", "type": "quantitative", "scale": {"domain": [0, 140], "nice": false}, "axis": {"title": "時間", "titleY": 22, "titleBaseline": "top", "values": [40, 80, 120, 134], "labelExpr": "datum.value > 130 ? '(f)' : datum.label"}},
"y": {"field": "v", "type": "quantitative", "scale": {"domain": [0, 910], "nice": false}, "axis": {"title": ["上", "下", "移", "動"], "titleFontSize": 14, "titleAngle": 0, "titleLineHeight": 17, "titleX": -46, "titleY": 61, "titleAlign": "center", "titleBaseline": "middle", "values": [0, 200, 400, 600, 800, 886], "labelExpr": "datum.value > 850 ? '(pix)' : datum.label", "labelOffset": {"condition": {"test": "datum.value == 0", "value": 12}, "value": 0}}},
"color": {"field": "c", "type": "nominal", "scale": {"domain": [1,2,3,4,5,6,7,8,9,10,11,12,13,14,15,16,17,18,19,20], "range": ["#1a1a1a","#d4d400","#ff2020","#2020ff","#1a1a1a","#ff2020","#d4d400","#2020ff","#1a1a1a","#ff2020","#2020ff","#d4d400","#1a1a1a","#ff2020","#2020ff","#ff9900","#c01010","#2020ff","#1a1a1a","#d4d400"]}, "legend": null}
}
},
{
"title": {"text": "左手チップ", "fontSize": 18, "offset": -29},
"width": 231, "height": 181,
"data": {"name": "svl"},
"mark": {"type": "line", "interpolate": "monotone", "strokeWidth": 0.9},
"encoding": {
"x": {"field": "t", "type": "quantitative", "scale": {"domain": [0, 140], "nice": false}, "axis": {"title": "時間", "titleY": 22, "titleBaseline": "top", "values": [40, 80, 120, 136], "labelExpr": "datum.value > 130 ? '(f)' : datum.label"}},
"y": {"field": "v", "type": "quantitative", "scale": {"domain": [0, 910], "nice": false}, "axis": {"title": ["上", "下", "移", "動"], "titleFontSize": 14, "titleAngle": 0, "titleLineHeight": 17, "titleX": -41, "titleY": 61, "titleAlign": "center", "titleBaseline": "middle", "values": [0, 200, 400, 600, 800, 886], "labelExpr": "datum.value > 850 ? '(pix)' : datum.label", "labelOffset": {"condition": {"test": "datum.value == 0", "value": 12}, "value": 0}}},
"color": {"field": "c", "type": "nominal", "scale": {"domain": [1,2,3,4,5,6,7,8,9,10,11,12,13,14,15,16,17,18,19,20], "range": ["#1a1a1a","#d4d400","#ff2020","#2020ff","#1a1a1a","#ff2020","#ff9900","#2020ff","#1a1a1a","#ff2020","#2020ff","#d4d400","#1a1a1a","#ff2020","#2020ff","#d4d400","#1a1a1a","#ff2020","#2020ff","#d4d400"]}, "legend": null}
}
}
]
}
]
},
{
"title": {"text": "Stroke horizontal motion graph（e）", "anchor": "middle", "offset": 13, "dx": 16},
"bounds": "flush",
"spacing": 0,
"resolve": {"scale": {"color": "independent"}},
"hconcat": [
{"width": 11, "height": 2, "view": {"stroke": null}, "data": {"values": []}, "mark": "point"},
{
"bounds": "flush",
"spacing": 66,
"resolve": {"scale": {"color": "independent"}},
"hconcat": [
{
"title": {"text": "右手チップ", "fontSize": 18, "offset": -23},
"width": 233, "height": 180,
"data": {"name": "shr"},
"mark": {"type": "line", "interpolate": "catmull-rom", "strokeWidth": 0.9, "clip": true},
"encoding": {
"x": {"field": "x", "type": "quantitative", "scale": {"domain": [-5, 375], "nice": false, "zero": false}, "axis": {"title": "左右移動", "titleFontSize": 16, "titleY": 20, "titleBaseline": "top", "labelFontSize": 14, "labelPadding": 2, "values": [100, 200, 300, 362], "labelExpr": "datum.value > 350 ? '(pix)' : datum.label"}},
"y": {"field": "t", "type": "quantitative", "scale": {"domain": [0, 140], "nice": false}, "axis": {"title": ["時", "間"], "titleFontSize": 16, "titleAngle": 0, "titleLineHeight": 19.5, "titleX": -34, "titleY": 70, "titleAlign": "center", "titleBaseline": "middle", "values": [0, 40, 80, 120, 135], "labelExpr": "datum.value > 130 ? '(f)' : datum.label", "labelOffset": {"condition": {"test": "datum.value == 0", "value": 12}, "value": 0}}},
"order": {"field": "t", "type": "quantitative"},
"color": {"field": "c", "type": "nominal", "scale": {"domain": [1,2,3,4,5,6,7,8,9,10,11,12,13,14,15,16,17,18,19,20], "range": ["#1a1a1a","#1a1a1a","#d4d400","#ff2020","#2020ff","#ff2020","#2020ff","#1a1a1a","#d4d400","#ff2020","#2020ff","#ff2020","#1a1a1a","#2020ff","#d4d400","#ff2020","#2020ff","#1a1a1a","#ff2020","#d4d400"]}, "legend": null}
}
},
{
"title": {"text": "左手チップ", "fontSize": 18, "offset": -23},
"width": 233, "height": 180,
"data": {"name": "shl"},
"mark": {"type": "line", "interpolate": "catmull-rom", "strokeWidth": 0.9, "clip": true},
"encoding": {
"x": {"field": "x", "type": "quantitative", "scale": {"domain": [27, 380], "nice": false, "zero": false}, "axis": {"title": "左右移動", "titleFontSize": 16, "titleY": 20, "titleBaseline": "top", "labelFontSize": 14, "labelPadding": 2, "values": [100, 200, 300, 345], "labelExpr": "datum.value > 340 ? '(pix)' : datum.label"}},
"y": {"field": "t", "type": "quantitative", "scale": {"domain": [0, 140], "nice": false}, "axis": {"title": ["時", "間"], "titleFontSize": 16, "titleAngle": 0, "titleLineHeight": 19.5, "titleX": -29, "titleY": 70, "titleAlign": "center", "titleBaseline": "middle", "values": [0, 40, 80, 120, 135], "labelExpr": "datum.value > 130 ? '(f)' : datum.label", "labelOffset": {"condition": {"test": "datum.value == 0", "value": 12}, "value": 0}}},
"order": {"field": "t", "type": "quantitative"},
"color": {"field": "c", "type": "nominal", "scale": {"domain": [1,2,3,4,5,6,7,8,9,10,11,12,13,14,15,16,17,18,19,20], "range": ["#1a1a1a","#ff2020","#2020ff","#d4d400","#ff2020","#2020ff","#1a1a1a","#ff2020","#d4d400","#2020ff","#1a1a1a","#ff2020","#2020ff","#d4d400","#1a1a1a","#ff2020","#2020ff","#1a1a1a","#ff2020","#d4d400"]}, "legend": null}
}
}
]
}
]
}
]
}
],
"config": {
"view": {"stroke": "#8c8c8c", "strokeWidth": 1.3},
"font": "Noto Sans CJK JP",
"axis": {"labelFont": "Noto Sans CJK JP", "labelFontSize": 15, "labelColor": "#555555", "titleFont": "Noto Sans CJK JP", "titleFontSize": 17, "titleFontWeight": "normal", "titleColor": "#555555", "domain": false, "grid": false, "ticks": false, "labelOverlap": false, "labelFlush": false, "labelPadding": 5},
"title": {"font": "Noto Sans CJK JP", "fontSize": 24, "fontWeight": "bold", "color": "#000000"}
}
}
